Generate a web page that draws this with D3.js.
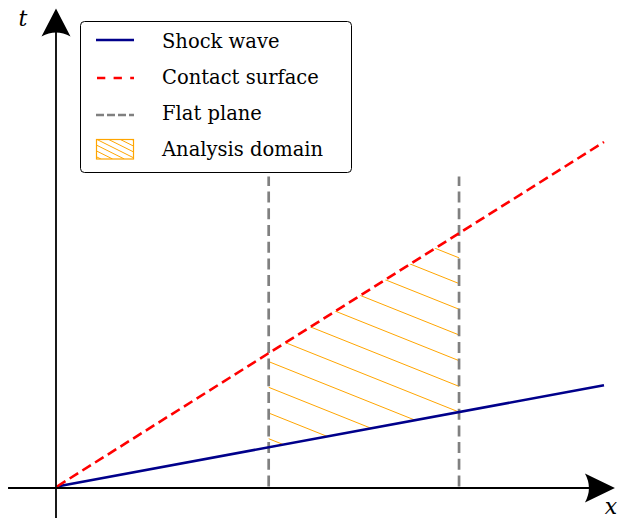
<!DOCTYPE html>
<html>
<head>
<meta charset="utf-8">
<script src="https://cdn.jsdelivr.net/npm/d3@7"></script>
<style>
  html, body { margin: 0; padding: 0; background: #fff; }
  svg { display: block; }
</style>
</head>
<body>
<svg id="chart" width="617" height="518"></svg>
<script>
// ---- data ----
const legendLabels = ["Shock wave", "Contact surface", "Flat plane", "Analysis domain"];
const shockX = [0, 10];
const shockT = [0, 2.94];
const contactX = [0, 10];
const contactT = [0, 10];
const planeX = [3.87, 7.35];
const planeT = [0, 9];
const axisX = [-0.895, 10.2];
const axisT = [-0.93, 9.0];
const axisLabels = ["x", "t"];

// ---- scales ----
const x = d3.scaleLinear().domain([0, 10]).range([57, 604]);
const y = d3.scaleLinear().domain([0, 10]).range([486.5, 142]);

const svg = d3.select("#chart");
const colors = { shock: "#00008B", contact: "#FF0000", plane: "#808080", domain: "#FFA500" };
const FONT = "'DejaVu Serif', 'Liberation Serif', serif";

// ---- analysis domain (hatched) ----
function lerp(xs, ts, v) {
  return ts[0] + (ts[1] - ts[0]) * (v - xs[0]) / (xs[1] - xs[0]);
}
const poly = [
  [x(planeX[0]), y(lerp(shockX, shockT, planeX[0]))],
  [x(planeX[1]), y(lerp(shockX, shockT, planeX[1]))],
  [x(planeX[1]), y(lerp(contactX, contactT, planeX[1]))],
  [x(planeX[0]), y(lerp(contactX, contactT, planeX[0]))]
];
const defs = svg.append("defs");
defs.append("clipPath").attr("id", "domClip")
  .append("path").attr("d", "M" + poly.map(p => p.join(",")).join("L") + "Z");

const hatchG = svg.append("g").attr("clip-path", "url(#domClip)");
const hs = 0.4, hStep = 25.7;
const anchorX = x(planeX[1]), anchorY = y(lerp(shockX, shockT, planeX[1]));
const c0 = anchorY - hs * anchorX;
for (let k = -14; k <= 14; k++) {
  const c = c0 + k * hStep;
  hatchG.append("line")
    .attr("x1", 200).attr("y1", hs * 200 + c)
    .attr("x2", 520).attr("y2", hs * 520 + c)
    .attr("stroke", colors.domain).attr("stroke-width", 1);
}

// ---- flat planes ----
const line = d3.line().x(d => x(d[0])).y(d => y(d[1]));
planeX.forEach(px => {
  svg.append("path")
    .attr("d", line([[px, planeT[0]], [px, planeT[1]]]))
    .attr("fill", "none").attr("stroke", colors.plane)
    .attr("stroke-width", 2.7).attr("stroke-dasharray", "11,5.7");
});

// ---- shock wave ----
svg.append("path")
  .attr("d", line(shockX.map((v, i) => [v, shockT[i]])))
  .attr("fill", "none").attr("stroke", colors.shock).attr("stroke-width", 2.6);

// ---- contact surface ----
svg.append("path")
  .attr("d", line(contactX.map((v, i) => [v, contactT[i]])))
  .attr("fill", "none").attr("stroke", colors.contact)
  .attr("stroke-width", 2.6).attr("stroke-dasharray", "10,5");

// ---- axes with stealth arrows ----
const ax = svg.append("g");
ax.append("line")
  .attr("x1", x(axisX[0])).attr("y1", 488).attr("x2", 600).attr("y2", 488)
  .attr("stroke", "#000").attr("stroke-width", 1.8);
ax.append("line")
  .attr("x1", x(0) - 1).attr("y1", y(axisT[0])).attr("x2", x(0) - 1).attr("y2", 24)
  .attr("stroke", "#000").attr("stroke-width", 1.8);

const tipX = x(axisX[1]);
ax.append("path")
  .attr("d", `M${tipX},488 L${tipX - 30},473.5 Q${tipX - 22},488 ${tipX - 30},502.5 Z`)
  .attr("fill", "#000");
const vx = x(0) - 1, tipY = 8.5;
ax.append("path")
  .attr("d", `M${vx},${tipY} L${vx - 14.5},${tipY + 28} Q${vx},${tipY + 20} ${vx + 14.5},${tipY + 28} Z`)
  .attr("fill", "#000");

ax.append("text").attr("x", 611).attr("y", 514)
  .attr("text-anchor", "middle")
  .attr("font-family", FONT).attr("font-style", "italic")
  .attr("font-size", 22).text(axisLabels[0]);
ax.append("text").attr("x", 23).attr("y", 26)
  .attr("text-anchor", "middle")
  .attr("font-family", FONT).attr("font-style", "italic")
  .attr("font-size", 22).text(axisLabels[1]);

// ---- legend ----
const lg = svg.append("g");
lg.append("rect")
  .attr("x", 80.5).attr("y", 21.5).attr("width", 271).attr("height", 151)
  .attr("rx", 4).attr("ry", 4)
  .attr("fill", "#fff").attr("stroke", "#000").attr("stroke-width", 1);

const rowsY = [40, 78, 115, 149];
const baseY = [48, 84, 120, 156];
const sx0 = 96, sx1 = 134;
lg.append("line").attr("x1", sx0).attr("x2", sx1).attr("y1", rowsY[0]).attr("y2", rowsY[0])
  .attr("stroke", colors.shock).attr("stroke-width", 2.6);
lg.append("line").attr("x1", sx0 + 1).attr("x2", sx1).attr("y1", rowsY[1]).attr("y2", rowsY[1])
  .attr("stroke", colors.contact).attr("stroke-width", 2.6).attr("stroke-dasharray", "8.3,8.3");
lg.append("line").attr("x1", sx0).attr("x2", sx1).attr("y1", rowsY[2]).attr("y2", rowsY[2])
  .attr("stroke", colors.plane).attr("stroke-width", 2.6).attr("stroke-dasharray", "8,3");

defs.append("clipPath").attr("id", "patchClip")
  .append("rect").attr("x", 96).attr("y", 139).attr("width", 38).attr("height", 20);
const pg = lg.append("g").attr("clip-path", "url(#patchClip)");
for (let k = -4; k <= 5; k++) {
  const x0 = 96 + k * 11.7;
  pg.append("line").attr("x1", x0).attr("y1", 139).attr("x2", x0 + 40).attr("y2", 159)
    .attr("stroke", colors.domain).attr("stroke-width", 1);
}
lg.append("rect").attr("x", 96.5).attr("y", 139.5).attr("width", 37).attr("height", 19.5)
  .attr("fill", "none").attr("stroke", colors.domain).attr("stroke-width", 1.2);

legendLabels.forEach((lab, i) => {
  lg.append("text").attr("x", 162).attr("y", baseY[i])
    .attr("font-family", FONT).attr("font-size", 19.5)
    .attr("fill", "#000").text(lab);
});
</script>
</body>
</html>
